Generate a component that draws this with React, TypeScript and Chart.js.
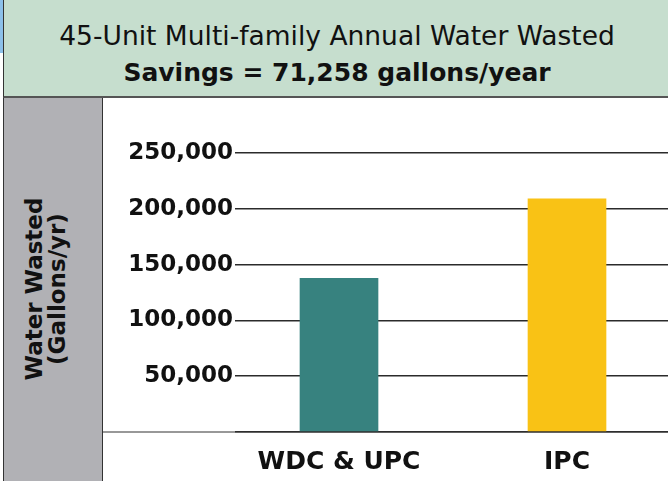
import React, { useEffect, useRef } from "react";
import { Chart, registerables } from "chart.js";

Chart.register(...registerables);

const titleLine1 = "45-Unit Multi-family Annual Water Wasted";
const titleLine2 = "Savings = 71,258 gallons/year";
const axisTitleLines = ["Water Wasted", "(Gallons/yr)"];
const categories = ["WDC & UPC", "IPC"];
const wastedGallons = [137600, 208858];
const barColors = ["#37827F", "#F9C215"];
const yMax = 250000;
const yStep = 50000;

const baselinePlugin = {
  id: "baselineLine",
  afterDatasetsDraw(chart: any) {
    const { ctx, scales } = chart;
    const y = scales.y.getPixelForValue(0);
    ctx.save();
    ctx.strokeStyle = "#333";
    ctx.lineWidth = 1.2;
    ctx.beginPath();
    ctx.moveTo(0, y);
    ctx.lineTo(chart.width, y);
    ctx.stroke();
    ctx.restore();
  },
};

export default function App() {
  const canvasRef = useRef<HTMLCanvasElement | null>(null);

  useEffect(() => {
    const canvas = canvasRef.current;
    if (!canvas) return;
    const chart = new Chart(canvas, {
      type: "bar",
      data: {
        datasets: [
          {
            data: categories.map((_, i) => ({ x: i, y: wastedGallons[i] })),
            backgroundColor: barColors,
            borderWidth: 0,
            barThickness: 78,
          },
        ],
      },
      options: {
        responsive: false,
        animation: false,
        events: [],
        layout: { padding: { top: 55, left: 0, right: 0, bottom: 0 } },
        plugins: { legend: { display: false }, tooltip: { enabled: false }, title: { display: false } },
        scales: {
          x: {
            type: "linear",
            min: -0.4167,
            max: 1.443,
            offset: false,
            grid: { display: false, drawTicks: false },
            border: { display: false },
            afterBuildTicks: (axis: any) => {
              axis.ticks = categories.map((_, i) => ({ value: i }));
            },
            afterFit: (axis: any) => {
              axis.height = 49;
            },
            ticks: {
              autoSkip: false,
              maxRotation: 0,
              padding: 15,
              color: "#111",
              font: { family: "DejaVu Sans", weight: "bold", size: 25 },
              callback: (v: any) => categories[v] ?? "",
            },
          },
          y: {
            min: 0,
            max: yMax,
            grid: { color: "#2b2b2b", lineWidth: 1.5, tickLength: 9, drawTicks: true },
            border: { display: false },
            afterFit: (axis: any) => {
              axis.width = 141;
            },
            ticks: {
              stepSize: yStep,
              padding: 2,
              color: "#111",
              font: { family: "DejaVu Sans", weight: "bold", size: 23 },
              callback: (v: any) => (v === 0 ? "" : Number(v).toLocaleString("en-US")),
            },
          },
        },
      },
      plugins: [baselinePlugin],
    } as any);
    return () => chart.destroy();
  }, []);

  return (
    <div
      style={{
        position: "fixed",
        left: 0,
        top: 0,
        width: 668,
        height: 481,
        overflow: "hidden",
        background: "#fff",
        fontFamily: "DejaVu Sans",
      }}
    >
      <div style={{ position: "absolute", left: 0, top: 0, width: 2.5, height: 53, background: "#8CC0EA" }} />
      <div
        style={{
          position: "absolute",
          left: 2.5,
          top: 0,
          width: 700,
          height: 95.5,
          background: "#C6DECE",
          borderLeft: "1.5px solid #333",
          borderBottom: "2px solid #555",
        }}
      />
      <div
        style={{
          position: "absolute",
          left: 0,
          width: 674,
          top: 20.8,
          textAlign: "center",
          fontSize: 26.5,
          lineHeight: "30px",
          color: "#111",
          whiteSpace: "nowrap",
        }}
      >
        {titleLine1}
      </div>
      <div
        style={{
          position: "absolute",
          left: 0,
          width: 674,
          top: 58.4,
          textAlign: "center",
          fontSize: 25,
          fontWeight: "bold",
          lineHeight: "30px",
          color: "#111",
          whiteSpace: "nowrap",
        }}
      >
        {titleLine2}
      </div>
      <div
        style={{
          position: "absolute",
          left: 2.5,
          top: 97.5,
          width: 98,
          height: 390,
          background: "#B1B1B5",
          borderLeft: "1.5px solid #333",
          borderRight: "1.5px solid #333",
        }}
      />
      <div
        style={{
          position: "absolute",
          left: 45.5 - 110,
          top: 289 - 23,
          width: 220,
          height: 46,
          transform: "rotate(-90deg)",
          transformOrigin: "50% 50%",
          textAlign: "center",
          fontSize: 23,
          fontWeight: "bold",
          lineHeight: "23px",
          color: "#111",
          whiteSpace: "nowrap",
        }}
      >
        {axisTitleLines.map((t) => (
          <div key={t}>{t}</div>
        ))}
      </div>
      <canvas
        ref={canvasRef}
        width={565}
        height={383}
        style={{ position: "absolute", left: 103, top: 98, width: 565, height: 383 }}
      />
    </div>
  );
}
